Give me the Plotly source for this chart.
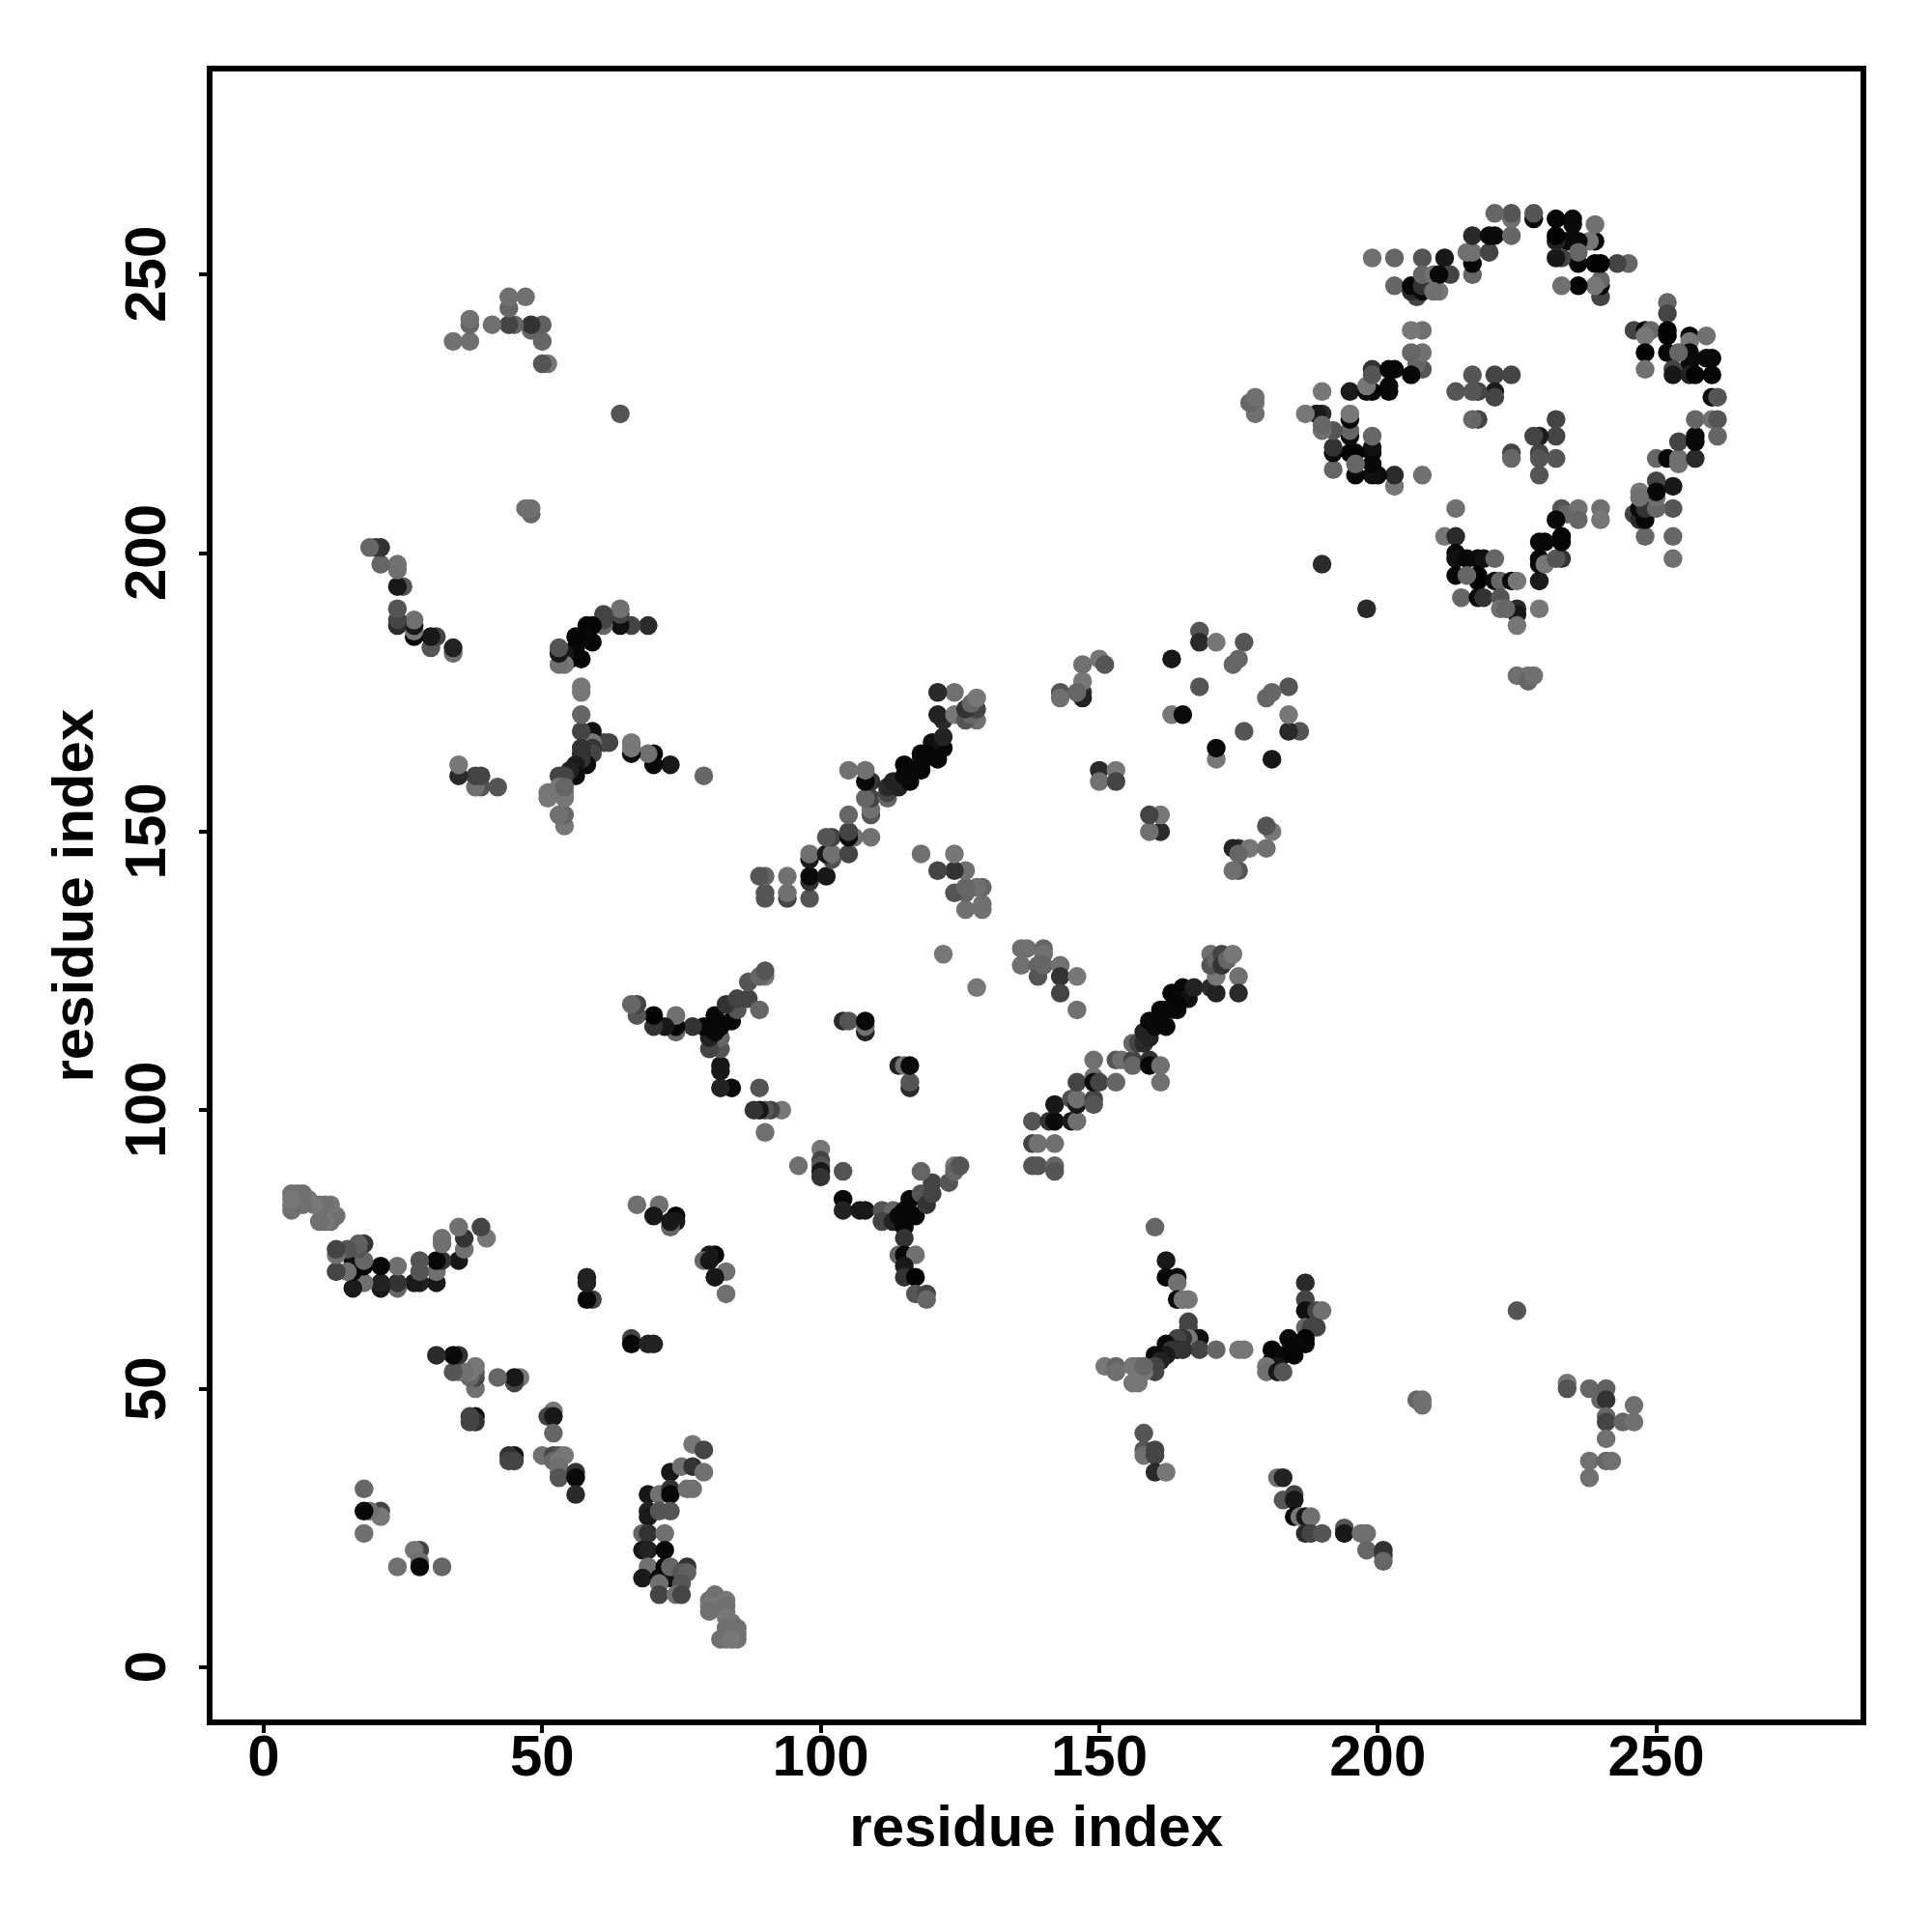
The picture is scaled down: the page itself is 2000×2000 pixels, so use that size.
import plotly.graph_objects as go

# contacts above the diagonal are (i, j, shade) with i > j; the map is symmetric
end_strand = [(81,13,0x70),(80,12,0x70),(80,11,0x77),(80,10,0x70),(83,12,0x77),(83,11,0x70),(83,10,0x70),(83,9,0x77),
 (84,8,0x77),(83,7,0x70),(83,6,0x70),(84,6,0x70),(85,7,0x70),(85,6,0x70),(83,5,0x77),(82,5,0x70),(85,5,0x70),(84,5,0x77)]
arc_70 = [(77,40,0x77),(79,39,0x44),(73,35,0x18),(75,36,0x70),(77,36,0x33),(79,35,0x70),(69,31,0x18),(71,31,0x70),(73,32,0x33),
 (73,31,0x08),(76,32,0x70),(77,32,0x70),(69,28,0x22),(69,27,0x1a),(71,28,0x55),(73,28,0x55),(68,24,0x66),(69,24,0x33),(72,24,0x70),
 (68,21,0x18),(69,21,0x22),(72,21,0x08),(69,18,0x70),(68,16,0x1a),(71,16,0x0a),(72,16,0x10),(73,16,0x10),(72,18,0x05),(73,18,0x66),
 (76,18,0x33),(75,17,0x55),(76,17,0x60),(71,15,0x70),(75,15,0x55),(71,13,0x44),(74,13,0x70),(75,13,0x44)]
near_20 = [(24,18,0x70),(28,21,0x44),(27,21,0x77),(28,19,0x70),(28,18,0x08),(32,18,0x66)]
near_45 = [(45,38,0x10),(44,38,0x33),(44,37,0x44),(45,37,0x44),(52,46,0x77),(51,45,0x44),(52,45,0x18),(52,42,0x66),(50,38,0x70),
 (52,38,0x44),(53,38,0x55),(54,38,0x77),(52,37,0x66),(53,37,0x77),(53,36,0x70),(53,35,0x70),(53,34,0x55),(56,35,0x33),(56,34,0x0a),(56,31,0x2a)]
near_66 = [(66,59,0x44),(66,58,0x08),(70,58,0x22),(69,58,0x22)]
near_75 = [(83,67,0x70),(83,71,0x70),(81,70,0x18),(81,74,0x02),(80,74,0x18),(79,73,0x66),(80,73,0x18)]
y_shape_a = [(104,84,0x08),(104,82,0x22),(107,82,0x18),(108,82,0x18),(111,82,0x55),(113,82,0x66),(111,80,0x44),(113,80,0x22),(114,81,0x0a),
 (115,79,0x08),(115,82,0x08),(116,84,0x08),(117,81,0x08),(118,85,0x55),(119,83,0x33),(120,85,0x44),(120,87,0x44),(118,89,0x66),(123,87,0x55),
 (124,90,0x77),(124,89,0x66),(125,90,0x55),(115,77,0x33),(114,74,0x66),(115,74,0x08),(117,74,0x70),(115,72,0x18),(115,70,0x33),(117,70,0x02),
 (117,67,0x55),(119,67,0x44),(119,66,0x66)]
near_100 = [(96,90,0x70),(100,93,0x77),(100,91,0x44),(100,90,0x55),(100,89,0x18),(100,88,0x33),(104,89,0x55),
 (116,104,0x2a),(116,105,0x55),(114,108,0x22),(115,108,0x70),(116,108,0x0a)]
strand_j = [(138,98,0x55),(138,94,0x44),(139,94,0x70),(142,94,0x70),(138,90,0x55),(139,90,0x55),(142,90,0x66),(142,89,0x55),(141,98,0x33),
 (142,98,0x0a),(142,101,0x18),(145,98,0x18),(146,98,0x70),(145,102,0x50),(146,101,0x18),(146,102,0x70),(149,102,0x44),(149,101,0x55),(146,105,0x44),
 (149,106,0x70),(149,105,0x0a),(150,105,0x44),(153,105,0x66),(149,109,0x70),(153,109,0x55),(154,109,0x70),(156,109,0x44),(156,108,0x66),
 (156,112,0x66),(157,112,0x44),(159,109,0x33),(159,108,0x08),(161,108,0x70),(161,105,0x70),(158,112,0x2a),(158,114,0x22),(159,116,0x08),
 (159,113,0x22),(160,115,0x0a),(161,118,0x05),(162,115,0x05),(163,121,0x05),(163,118,0x30),(164,118,0x0a),(164,120,0x08),(165,122,0x08),
 (166,120,0x10),(167,122,0x22),(164,119,0x05),(162,118,0x08),(161,116,0x08),(170,122,0x2a),(171,121,0x22),(171,124,0x77),(175,124,0x70),
 (175,121,0x2a),(170,128,0x70),(170,126,0x55),(171,127,0x66),(172,128,0x44),(172,126,0x33),(173,127,0x66),(174,128,0x77)]
near_125 = [(136,129,0x70),(137,129,0x70),(140,129,0x66),(140,128,0x70),(136,126,0x70),(139,126,0x66),(139,124,0x55),(140,126,0x66),
 (143,126,0x70),(143,124,0x33),(146,124,0x77),(143,121,0x44),(146,118,0x70),(128,122,0x77)]
near_160 = [(175,143,0x55),(174,143,0x70),(175,147,0x33),(174,147,0x22),(177,147,0x77),(180,147,0x70),(175,146,0x66),(181,150,0x77),(180,151,0x55),
 (161,150,0x2a),(161,153,0x77),(159,150,0x70),(159,153,0x44),(181,163,0x18),(171,163,0x77),(171,165,0x0a),(186,168,0x55),(184,168,0x2a),
 (184,171,0x77),(184,176,0x55),(181,175,0x66),(180,174,0x66),(176,168,0x55)]
y_shape_b = [(160,79,0x66),(162,73,0x18),(162,70,0x08),(164,70,0x05),(164,69,0x70),(164,66,0x0a),(165,66,0x77),(166,66,0x77),(166,62,0x44),
 (166,61,0x44),(168,59,0x10),(166,59,0x77),(165,59,0x33),(168,57,0x44),(171,57,0x66),(175,57,0x77),(176,57,0x77),(164,59,0x44),(162,58,0x0a),
 (164,57,0x22),(165,57,0x33),(163,57,0x33),(162,56,0x1a),(160,56,0x0a),(161,55,0x22),(160,54,0x44),(160,53,0x44),(151,54,0x77),(153,54,0x66),
 (153,53,0x70),(156,54,0x77),(157,54,0x77),(156,51,0x77),(157,51,0x77),(158,53,0x77),(157,53,0x77),(158,54,0x66)]
y_shape_c = [(187,69,0x2a),(187,66,0x44),(187,64,0x10),(189,64,0x44),(190,64,0x70),(187,61,0x66),(189,61,0x44),(188,61,0x44),(184,59,0x08),
 (187,59,0x05),(187,58,0x05),(185,58,0x08),(181,57,0x05),(181,55,0x05),(183,56,0x08),(185,56,0x05),(182,54,0x18),(180,54,0x77),(180,53,0x70),
 (182,53,0x18),(183,53,0x55)]
near_160_40 = [(158,42,0x55),(158,39,0x55),(158,38,0x70),(160,39,0x44),(160,38,0x44),(160,35,0x2a),(162,35,0x77)]
near_190_25 = [(182,34,0x70),(183,34,0x22),(183,30,0x55),(185,31,0x44),(185,30,0x18),(185,27,0x05),(186,27,0x77),(187,27,0x18),(188,27,0x70),
 (187,24,0x2a),(188,24,0x44),(190,24,0x55),(194,25,0x55),(194,24,0x18),(197,24,0x70),(198,24,0x70),(198,21,0x66),(201,21,0x33),(201,20,0x33),(201,19,0x66)]
far_points = [(207,48,0x66),(208,48,0x70),(208,47,0x70),(225,64,0x55),(234,51,0x77),(234,50,0x55),(238,50,0x66),(240,48,0x66),(241,50,0x60),
 (241,48,0x33),(241,45,0x66),(241,44,0x44),(241,41,0x70),(244,44,0x66),(246,44,0x70),(246,47,0x70),(238,37,0x70),(241,37,0x66),(242,37,0x70),(238,34,0x70),
 (225,178,0x70),(227,178,0x70),(227,177,0x66),(228,178,0x70),(198,190,0x2a)]
ring_bottom = [(214,208,0x70),(212,203,0x77),(214,203,0x2a),(214,200,0x0a),(214,199,0x10),(214,196,0x08),(216,199,0x08),(218,199,0x08),(219,199,0x10),
 (221,199,0x66),(218,196,0x02),(218,195,0x02),(216,196,0x66),(215,192,0x66),(218,192,0x0a),(219,192,0x33),(221,195,0x0a),(222,195,0x66),(224,195,0x08),
 (225,195,0x77),(222,192,0x55),(222,190,0x70),(225,190,0x2a),(225,189,0x18),(223,190,0x66),(225,187,0x77),(229,190,0x77),(229,195,0x1a),
 (229,202,0x05),(230,202,0x08),(229,199,0x05),(229,198,0x08),(230,198,0x77),(233,199,0x33),(232,199,0x55),(233,203,0x05),(233,202,0x05),
 (233,208,0x55),(234,207,0x66),(236,208,0x70),(236,206,0x66),(240,208,0x70),(240,206,0x77),(232,206,0x08)]
ring_right_low = [(248,203,0x66),(253,203,0x66),(253,199,0x70),(253,208,0x55),(253,212,0x18),(246,207,0x44),(247,206,0x2a),(248,206,0x08),(247,208,0x0a),
 (248,208,0x33),(250,208,0x66),(247,211,0x77),(250,210,0x70),(250,213,0x44),(250,211,0x08),(247,210,0x70),(250,217,0x66),(252,217,0x08),(254,217,0x70),
 (254,216,0x70),(257,217,0x2a),(254,220,0x44),(257,221,0x0a),(257,220,0x0a),(257,224,0x66),(260,224,0x70),(261,224,0x55),(261,221,0x66),(260,228,0x0a),(261,228,0x55)]
ring_inner = [(232,224,0x44),(232,221,0x44),(229,221,0x1a),(228,221,0x44),(229,218,0x44),(229,217,0x55),(232,217,0x55),(229,214,0x55),(224,218,0x44),(224,217,0x66)]
ring_right_up = [(252,245,0x66),(252,243,0x44),(246,240,0x44),(248,240,0x08),(249,240,0x66),(248,239,0x77),(252,240,0x02),(252,239,0x02),(256,239,0x08),
 (259,239,0x70),(256,238,0x77),(248,236,0x02),(252,236,0x08),(256,236,0x08),(256,234,0x0a),(254,236,0x66),(259,235,0x0a),(260,235,0x0a),(248,233,0x70),
 (253,233,0x44),(253,232,0x18),(256,232,0x22),(257,232,0x02),(260,232,0x05)]

groups = [end_strand, arc_70, near_20, near_45, near_66, near_75, y_shape_a, near_100, strand_j, near_125, near_160,
          y_shape_b, y_shape_c, near_160_40, near_190_25, far_points, ring_bottom, ring_right_low, ring_inner, ring_right_up]
tick_vals = [0, 50, 100, 150, 200, 250]
axis_title = "residue index"

xs, ys, cols = [], [], []
for g in groups:
    for i, j, s in g:
        xs += [i, j]; ys += [j, i]
        cols += [f"rgb({s},{s},{s})"] * 2

L, R, T, B = 211.8, 1917.6, 66.4, 1772
W = H = 2000
fig = go.Figure(go.Scatter(x=xs, y=ys, mode="markers", marker=dict(size=19.5, color=cols, line_width=0),
                           hoverinfo="skip", showlegend=False))
font = dict(family="Liberation Sans", size=60, color="black", weight="bold")
common = dict(tickvals=tick_vals, ticks="outside", ticklen=8, tickwidth=4, tickcolor="black", showgrid=False, zeroline=False,
              showline=True, mirror=True, linecolor="black", linewidth=6, tickfont=font, automargin=False)
fig.update_xaxes(range=[-9.23, 286.6], domain=[L/W, R/W], ticklabelstandoff=-28, title=dict(text=f"<b>{axis_title}</b>", font=font, standoff=21), **common)
fig.update_yaxes(range=[-9.4, 286.4], domain=[1-B/H, 1-T/H], showticklabels=False, title=dict(text=f"<b>{axis_title}</b>", font=font, standoff=92), **common)
for v in tick_vals:
    fig.add_annotation(text=str(v), textangle=-90, font=font, showarrow=False, xref="paper", x=142.5/W, xanchor="center",
                       yref="y", y=v, yanchor="middle")
fig.update_layout(width=W, height=H, margin=dict(l=0, r=0, t=0, b=0), plot_bgcolor="white", paper_bgcolor="white")
fig.write_html("out.html")
